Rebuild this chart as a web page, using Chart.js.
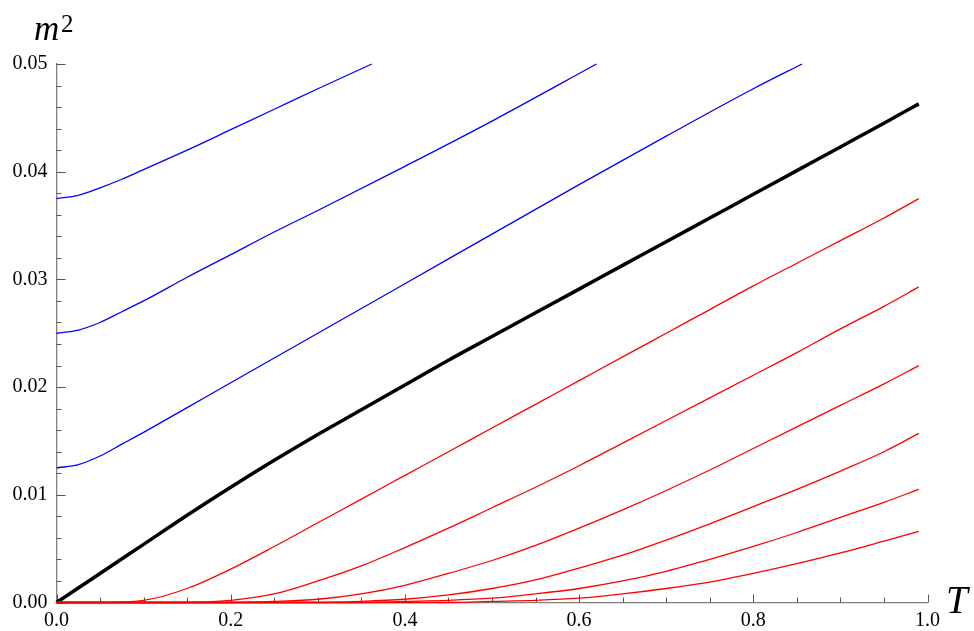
<!DOCTYPE html>
<html>
<head>
<meta charset="utf-8">
<script src="https://cdn.jsdelivr.net/npm/chart.js@4.4.1/dist/chart.umd.min.js"></script>
<style>
  body { margin: 0; background: #fff; }
  #wrap { position: relative; width: 974px; height: 631px; }
  .lbl { position: absolute; font-family: "Liberation Serif", serif; line-height: 1; color: #000; white-space: nowrap; }
</style>
</head>
<body>
<div id="wrap">
  <canvas id="chart1"></canvas>
  <span class="lbl" style="left:34px; top:11px; font-size:35px; font-style:italic;">m</span>
  <span class="lbl" style="left:61px; top:11px; font-size:25px;">2</span>
  <span class="lbl" style="left:946px; top:580px; font-size:39px; font-style:italic;">T</span>
</div>
<script>
// ----------------------------
// data
// ----------------------------
const xTickLabels = ["0.0", "0.2", "0.4", "0.6", "0.8", "1.0"];
const yTickLabels = ["0.00", "0.01", "0.02", "0.03", "0.04", "0.05"];

// blue curves (start above zero, stop at top of plot)
const tBlue1 = [0, 0.025, 0.05, 0.075, 0.1, 0.15, 0.2, 0.25, 0.3, 0.362];
const blue1  = [0.0375, 0.0378, 0.0385, 0.0393, 0.0402, 0.0420, 0.0439, 0.0458, 0.0477, 0.0500];
const tBlue2 = [0, 0.025, 0.05, 0.075, 0.1, 0.15, 0.2, 0.25, 0.3, 0.4, 0.5, 0.62];
const blue2  = [0.0250, 0.0253, 0.0260, 0.0270, 0.0280, 0.0302, 0.0323, 0.0344, 0.0364, 0.0405, 0.0447, 0.0500];
const tBlue3 = [0, 0.025, 0.05, 0.075, 0.1, 0.15, 0.2, 0.3, 0.4, 0.5, 0.6, 0.7, 0.8, 0.856];
const blue3  = [0.0125, 0.0128, 0.0136, 0.0147, 0.0158, 0.0181, 0.0204, 0.0250, 0.0296, 0.0342, 0.0388, 0.0433, 0.0477, 0.0500];

// black + red curves share one T grid
const tGrid = [0, 0.05, 0.1, 0.15, 0.2, 0.25, 0.3, 0.35, 0.4, 0.45, 0.5,
               0.55, 0.6, 0.65, 0.7, 0.75, 0.8, 0.85, 0.9, 0.95, 0.99];
const black = [0, 0.0027, 0.0054, 0.0081, 0.0107, 0.0132, 0.0156, 0.0179, 0.0202, 0.0225, 0.0247,
               0.0269, 0.0291, 0.0313, 0.0335, 0.0357, 0.0379, 0.0401, 0.0423, 0.0445, 0.0463];
const red1 = [0, 0, 0.0002, 0.0013, 0.0031, 0.0052, 0.0074, 0.0096, 0.0118, 0.0140, 0.0162,
              0.0184, 0.0206, 0.0228, 0.0250, 0.0272, 0.0294, 0.0315, 0.0336, 0.0357, 0.0375];
const red2 = [0, 0, 0, 0, 0.0002, 0.0008, 0.0020, 0.0034, 0.0051, 0.0069, 0.0088,
              0.0107, 0.0127, 0.0148, 0.0169, 0.0190, 0.0211, 0.0232, 0.0254, 0.0275, 0.0293];
const red3 = [0, 0, 0, 0, 0, 0.0001, 0.0003, 0.0008, 0.0016, 0.0027, 0.0039,
              0.0053, 0.0069, 0.0086, 0.0104, 0.0123, 0.0143, 0.0163, 0.0183, 0.0203, 0.0220];
const red4 = [0, 0, 0, 0, 0, 0, 0, 0.0001, 0.0003, 0.0007, 0.0013,
              0.0021, 0.0032, 0.0044, 0.0058, 0.0073, 0.0089, 0.0105, 0.0122, 0.0140, 0.0157];
const red5 = [0, 0, 0, 0, 0, 0, 0, 0, 0.0001, 0.0002, 0.0004,
              0.0008, 0.0013, 0.0020, 0.0029, 0.0040, 0.0052, 0.0065, 0.0079, 0.0093, 0.0105];
const red6 = [0, 0, 0, 0, 0, 0, 0, 0, 0, 0, 0.0001,
              0.0002, 0.0004, 0.0008, 0.0013, 0.0019, 0.0027, 0.0036, 0.0046, 0.0057, 0.0066];

// ----------------------------
// Helpers
// ----------------------------
function pts(ts, vs) { return ts.map((t, i) => ({ x: t, y: vs[i] })); }

function ds(label, data, color, width) {
  return {
    label,
    data,
    borderColor: color,
    backgroundColor: color,
    borderWidth: width,
    fill: false,
    pointRadius: 0,
    cubicInterpolationMode: 'monotone',
    clip: false
  };
}

// inward pointing ticks, mathematica style
const innerTicks = {
  id: 'innerTicks',
  beforeDatasetsDraw(chart) {
    const c = chart.ctx, xs = chart.scales.x, ys = chart.scales.y;
    const x0 = xs.left, y0 = ys.bottom;
    c.save();
    c.strokeStyle = '#555';
    c.lineWidth = 1;
    for (let i = 0; i <= 20; i++) {
      const px = Math.round(xs.getPixelForValue(i * 0.05)) + 0.5;
      const len = (i % 4 === 0) ? 8 : 5;
      c.beginPath(); c.moveTo(px, y0); c.lineTo(px, y0 - len); c.stroke();
    }
    for (let i = 0; i <= 25; i++) {
      const py = Math.round(ys.getPixelForValue(i * 0.002)) + 0.5;
      const len = (i % 5 === 0) ? 9 : 5;
      c.beginPath(); c.moveTo(x0, py); c.lineTo(x0 + len, py); c.stroke();
    }
    c.restore();
  }
};

const tickFont = { family: "Liberation Serif", size: 20 };

function initChart() {
  new Chart(document.getElementById('chart1').getContext('2d'), {
    type: 'line',
    data: {
      datasets: [
        ds("blue1", pts(tBlue1, blue1), "#0000ff", 1.3),
        ds("blue2", pts(tBlue2, blue2), "#0000ff", 1.3),
        ds("blue3", pts(tBlue3, blue3), "#0000ff", 1.3),
        ds("red1", pts(tGrid, red1), "#ff0000", 1.3),
        ds("red2", pts(tGrid, red2), "#ff0000", 1.3),
        ds("red3", pts(tGrid, red3), "#ff0000", 1.3),
        ds("red4", pts(tGrid, red4), "#ff0000", 1.3),
        ds("red5", pts(tGrid, red5), "#ff0000", 1.3),
        ds("red6", pts(tGrid, red6), "#ff0000", 1.3),
        ds("black", pts(tGrid, black), "#000000", 3.5)
      ]
    },
    options: {
      responsive: true,
      maintainAspectRatio: false,
      animation: false,
      events: [],
      layout: { padding: { left: 0, top: 64, right: 46.5, bottom: 0 } },
      plugins: { legend: { display: false }, tooltip: { enabled: false } },
      scales: {
        x: {
          type: 'linear',
          min: 0, max: 1,
          afterFit: s => { s.height = 28.5; },
          grid: { display: false, drawTicks: false },
          border: { display: true, color: '#808080', width: 1.3 },
          ticks: {
            stepSize: 0.2,
            padding: 6,
            color: '#000',
            font: tickFont,
            maxRotation: 0,
            callback: v => xTickLabels[Math.round(v / 0.2)]
          }
        },
        y: {
          type: 'linear',
          min: 0, max: 0.05,
          afterFit: s => { s.width = 56.5; },
          grid: { display: false, drawTicks: false },
          border: { display: true, color: '#808080', width: 1.3 },
          ticks: {
            stepSize: 0.01,
            padding: 9,
            color: '#000',
            font: tickFont,
            callback: v => yTickLabels[Math.round(v / 0.01)]
          }
        }
      }
    },
    plugins: [innerTicks]
  });
}

// make sure the serif face is ready before the canvas draws text
document.fonts.load('20px "Liberation Serif"').then(initChart, initChart);
</script>
</body>
</html>
